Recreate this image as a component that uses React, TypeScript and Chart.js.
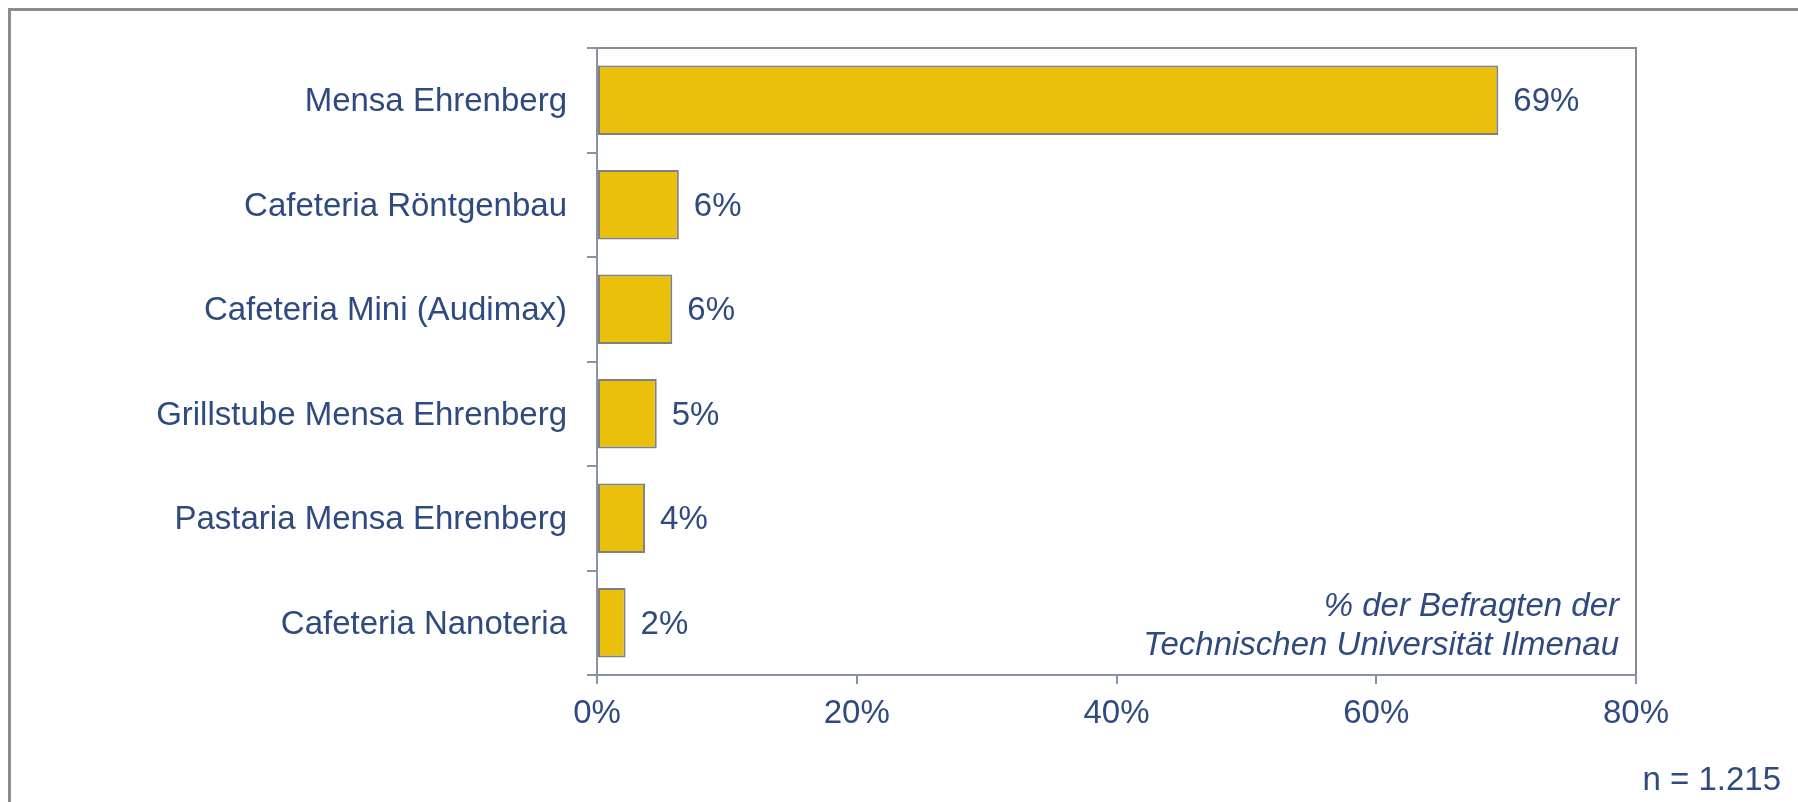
import { useEffect, useRef } from 'react';
import { Chart, registerables } from 'chart.js';

Chart.register(...registerables);

const categories = [
  'Mensa Ehrenberg',
  'Cafeteria Röntgenbau',
  'Cafeteria Mini (Audimax)',
  'Grillstube Mensa Ehrenberg',
  'Pastaria Mensa Ehrenberg',
  'Cafeteria Nanoteria',
];
const values = [69.4, 6.3, 5.8, 4.6, 3.7, 2.2];
const valueLabels = ['69%', '6%', '6%', '5%', '4%', '2%'];
const xTicks = [0, 20, 40, 60, 80];
const noteLines = ['% der Befragten der', 'Technischen Universität Ilmenau'];
const sampleNote = 'n = 1.215';

const TEXT = '#2f4a80';
const AXIS = '#8a92aa';
const FRAME = '#8a8a8a';
const BAR = '#ebc00a';
const BAR_BORDER = '#808080';
const FONT = '"Liberation Sans", Arial, sans-serif';

const W = 1798;
const H = 802;

const extrasPlugin = {
  id: 'extras',
  afterDraw(chart: any) {
    const { ctx, chartArea } = chart;
    const { left, right, top, bottom } = chartArea;
    ctx.save();
    // frame top and right
    ctx.strokeStyle = FRAME;
    ctx.lineWidth = 2;
    ctx.beginPath();
    ctx.moveTo(left, top);
    ctx.lineTo(right, top);
    ctx.lineTo(right, bottom);
    ctx.stroke();

    // value labels
    const meta = chart.getDatasetMeta(0);
    ctx.fillStyle = TEXT;
    ctx.font = `33px ${FONT}`;
    ctx.textAlign = 'left';
    ctx.textBaseline = 'middle';
    meta.data.forEach((bar: any, i: number) => {
      ctx.fillText(valueLabels[i], bar.x + 15, bar.y + 2);
    });

    // note text
    ctx.font = `italic 33px ${FONT}`;
    ctx.textAlign = 'right';
    ctx.textBaseline = 'alphabetic';
    ctx.fillText(noteLines[0], right - 17, bottom - 59);
    ctx.fillText(noteLines[1], right - 17, bottom - 20);

    // sample size
    ctx.font = `33px ${FONT}`;
    ctx.fillText(sampleNote, chart.width - 17, chart.height - 12);
    ctx.restore();
  },
};

export default function App() {
  const ref = useRef<HTMLCanvasElement | null>(null);

  useEffect(() => {
    if (!ref.current) return;
    const chart = new Chart(ref.current, {
      type: 'bar',
      data: {
        labels: categories,
        datasets: [
          {
            data: values,
            backgroundColor: BAR,
            borderColor: BAR_BORDER,
            borderWidth: 2,
            borderSkipped: false,
            barPercentage: 0.665,
            categoryPercentage: 1,
          },
        ],
      },
      options: {
        indexAxis: 'y',
        responsive: false,
        animation: false,
        devicePixelRatio: 1,
        layout: { padding: { left: 0, right: W - 1636, top: 48, bottom: 67 } },
        plugins: {
          legend: { display: false },
          tooltip: { enabled: false },
          title: { display: false },
        },
        scales: {
          x: {
            type: 'linear',
            min: 0,
            max: 80,
            afterBuildTicks: (scale: any) => {
              scale.ticks = xTicks.map((v) => ({ value: v }));
            },
            afterFit: (scale: any) => {
              scale.height = 60;
            },
            ticks: {
              callback: (v: any) => `${v}%`,
              color: TEXT,
              font: { family: FONT, size: 33 },
              padding: 10,
              maxRotation: 0,
            },
            grid: {
              drawOnChartArea: false,
              drawTicks: true,
              tickLength: 9,
              color: AXIS,
              lineWidth: 2,
            },
            border: { display: true, color: AXIS, width: 2 },
          },
          y: {
            type: 'category',
            offset: true,
            afterFit: (scale: any) => {
              scale.width = 597;
            },
            ticks: {
              color: TEXT,
              font: { family: FONT, size: 33, lineHeight: '4px' },
              padding: 20,
              // empty first line nudges the label slightly downward
              callback: (_v: any, i: number) => ['', categories[i]],
            },
            grid: {
              offset: true,
              drawOnChartArea: false,
              drawTicks: true,
              tickLength: 10,
              color: AXIS,
              lineWidth: 2,
            },
            border: { display: true, color: AXIS, width: 2 },
          },
        },
      },
      plugins: [extrasPlugin],
    });
    return () => chart.destroy();
  }, []);

  return (
    <div style={{ position: 'fixed', left: 0, top: 0, width: W, height: H, background: '#fff' }}>
      <div
        style={{
          position: 'absolute',
          left: 8,
          top: 8,
          width: W - 8,
          height: H - 8,
          borderLeft: '3px solid #8c8c8c',
          borderTop: '3px solid #8c8c8c',
          boxSizing: 'border-box',
        }}
      />
      <canvas ref={ref} width={W} height={H} style={{ position: 'absolute', left: 0, top: 0, width: W, height: H }} />
    </div>
  );
}
